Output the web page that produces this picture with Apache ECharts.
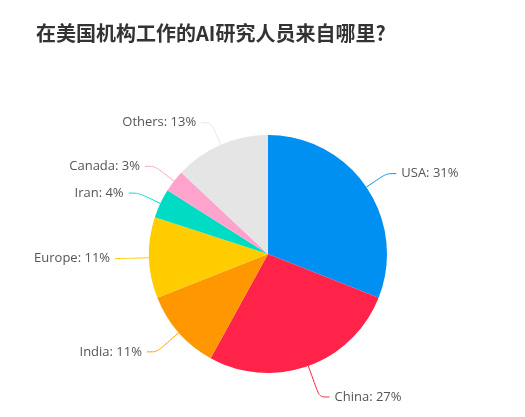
<!DOCTYPE html>
<html>
<head>
<meta charset="utf-8">
<script src="https://cdn.jsdelivr.net/npm/echarts@6/dist/echarts.min.js"></script>
<style>
  html, body { margin: 0; padding: 0; background: #fff; }
  #main { width: 525px; height: 417px; }
</style>
</head>
<body>
<div id="main"></div>
<script>
// 数据
const names = ['USA', 'China', 'India', 'Europe', 'Iran', 'Canada', 'Others'];
const shares = [31, 27, 11, 11, 4, 3, 13];
const colors = ['#0090f2', '#ff2249', '#ff9800', '#ffcc00', '#00dcc4', '#ffa3cd', '#e5e5e5'];

let chart = echarts.init(document.getElementById('main'));
// 下方两个标签引线稍长
let longLines = { China: 33, India: 29 };
let option = {
    color: colors,
    title: {
        text: '在美国机构工作的AI研究人员来自哪里?',
        left: 31,
        top: 18,
        textStyle: {
            fontFamily: 'Noto Sans CJK SC',
            fontSize: 20,
            fontWeight: 'bold',
            color: '#333'
        }
    },
    series: [
        {
            type: 'pie',
            radius: 119,
            center: [268, 254],
            startAngle: 90,
            clockwise: true,
            animation: false,
            data: names.map((n, i) => {
                let item = { name: n, value: shares[i] };
                if (longLines[n]) item.labelLine = { length: longLines[n] };
                return item;
            }),
            label: {
                formatter: '{b}: {c}%',
                color: '#555',
                fontFamily: 'Open Sans',
                fontSize: 13
            },
            labelLine: {
                length: 24,
                length2: 10,
                smooth: true,
                lineStyle: { width: 1 }
            },
            itemStyle: {
                borderWidth: 0
            },
            emphasis: { disabled: true }
        }
    ]
};
chart.setOption(option);
</script>
</body>
</html>
